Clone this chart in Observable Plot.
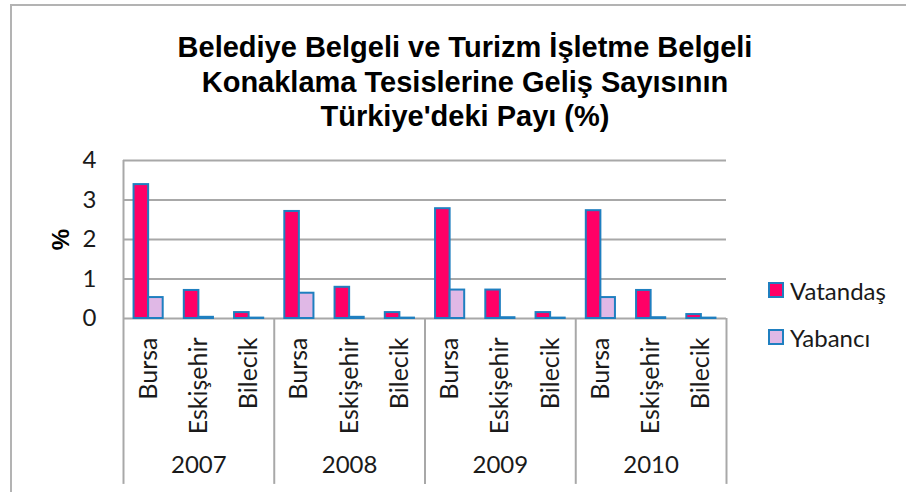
<!DOCTYPE html>
<html><head><meta charset="utf-8">
<script src="https://cdn.jsdelivr.net/npm/d3@7"></script>
<script src="https://cdn.jsdelivr.net/npm/@observablehq/plot@0.6"></script>
<style>
body{margin:0;background:#fff;}
#wrap{position:relative;width:906px;height:492px;overflow:hidden;background:#fff;}
#wrap svg{position:absolute;left:0;top:0;}
#frame{position:absolute;left:10px;top:4px;width:1000px;height:1000px;border-left:2px solid #b3b3b3;border-top:2px solid #b3b3b3;}
#title{position:absolute;left:24px;top:30px;width:882px;text-align:center;font:bold 29px "Liberation Sans",Arial,sans-serif;line-height:34.5px;color:#000;}
.leg{position:absolute;left:768px;font:24px Lato,sans-serif;color:#1a1a1a;display:flex;align-items:center;height:30px;}
.sw{width:12px;height:12px;border:2px solid #1f7fc0;margin-right:6px;}
</style></head>
<body>
<div id="wrap">
  <div id="frame"></div>
  <div id="title">Belediye Belgeli ve Turizm İşletme Belgeli<br>Konaklama Tesislerine Geliş Sayısının<br>Türkiye'deki Payı (%)</div>
</div>
<script>
const years = ["2007", "2008", "2009", "2010"];
const cities = ["Bursa", "Eskişehir", "Bilecik"];
const seriesNames = ["Vatandaş", "Yabancı"];
const vatandas = [3.39, 0.71, 0.15, 2.71, 0.79, 0.15, 2.78, 0.72, 0.15, 2.73, 0.71, 0.10];
const yabanci  = [0.53, 0.03, 0.01, 0.64, 0.03, 0.01, 0.72, 0.02, 0.01, 0.53, 0.02, 0.01];
const yTicks = [0, 1, 2, 3, 4];
const colors = ["#ff0066", "#e0b8e6"];
const strokeColor = "#1f7fc0";
const gridColor = "#a8a8a8";

const rows = [];
years.forEach((yr, yi) => cities.forEach((c, ci) => {
  const slot = yi * cities.length + ci;
  rows.push({year: yr, city: c, slot, series: seriesNames[0], v: vatandas[slot], a: 0.21, b: 0.5});
  rows.push({year: yr, city: c, slot, series: seriesNames[1], v: yabanci[slot], a: 0.5, b: 0.79});
}));
const nSlots = years.length * cities.length;
const cityTicks = d3.range(nSlots).map(i => i + 0.5);
const yearTicks = years.map((_, i) => i * cities.length + cities.length / 2);
const seps = years.map((_, i) => i * cities.length).concat([nSlots]);
const font = "Lato, sans-serif";

const chart = Plot.plot({
  width: 906, height: 492,
  marginLeft: 123, marginRight: 180, marginTop: 160, marginBottom: 174,
  style: {background: "transparent", fontFamily: font, color: "#1a1a1a"},
  x: {domain: [0, nSlots]},
  y: {domain: [0, 4]},
  color: {domain: seriesNames, range: colors},
  marks: [
    Plot.gridY(yTicks, {stroke: gridColor, strokeOpacity: 1, strokeWidth: 2}),
    Plot.ruleX([0], {y1: 0, y2: 4, stroke: gridColor, strokeWidth: 2}),
    Plot.ruleX(seps, {y1: 0, y2: -4.2, stroke: gridColor, strokeWidth: 2}),
    Plot.rect(rows, {x1: d => d.slot + d.a, x2: d => d.slot + d.b, y1: 0, y2: "v", fill: "series", stroke: strokeColor, strokeWidth: 2}),
    Plot.axisY(yTicks, {tickSize: 0, tickPadding: 27, fontSize: 24, label: null, tickFormat: d => String(d)}),
    Plot.text(["%"], {frameAnchor: "left", textAnchor: "middle", dx: -62, rotate: -90, fontWeight: "bold", fontSize: 24, fontFamily: "Liberation Sans, Arial, sans-serif", fill: "#000"}),
    Plot.axisX(cityTicks, {tickSize: 0, tickPadding: 19, tickRotate: -90, fontSize: 25, label: null, tickFormat: d => cities[Math.floor(d) % cities.length]}),
    Plot.axisX(yearTicks, {tickSize: 0, tickPadding: 137, fontSize: 24, label: null, tickFormat: d => years[Math.floor(d / cities.length)]})
  ]
});
const wrap = document.getElementById("wrap");
wrap.insertBefore(chart, wrap.firstChild);

const legTops = [275, 322];
seriesNames.forEach((s, i) => {
  const el = document.createElement("div");
  el.className = "leg";
  el.style.top = legTops[i] + "px";
  el.innerHTML = `<span class="sw" style="background:${colors[i]}"></span>${s}`;
  wrap.appendChild(el);
});
</script>
</body></html>
